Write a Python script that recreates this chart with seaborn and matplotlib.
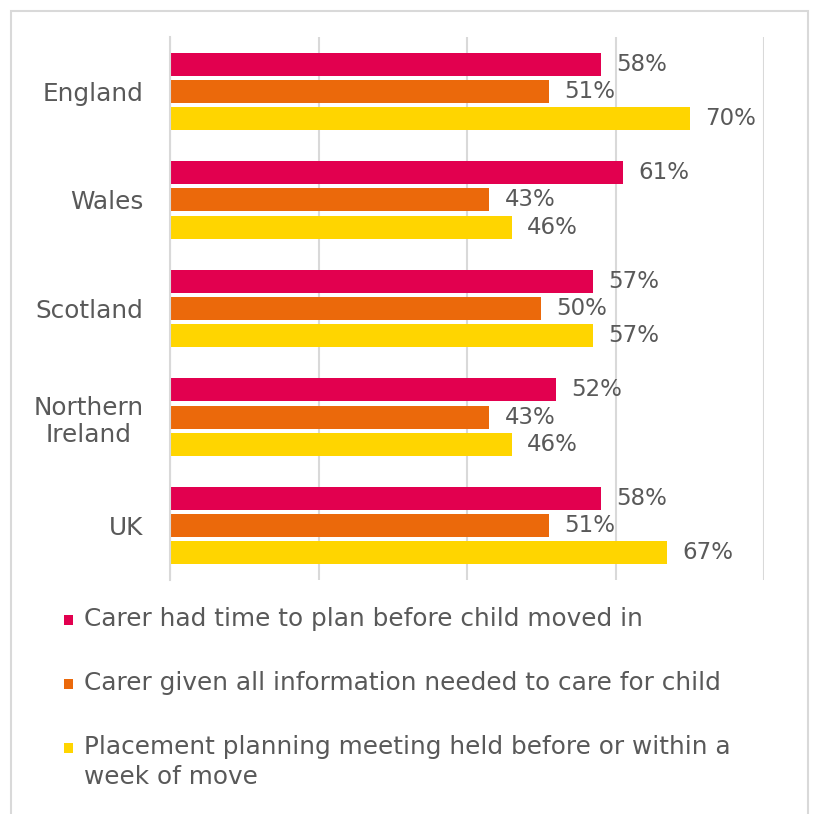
import matplotlib
matplotlib.use("Agg")
import matplotlib.pyplot as plt
from matplotlib.patches import Rectangle
import pandas as pd
import seaborn as sns

# Survey results by nation (% of foster carers)
countries = ["England", "Wales", "Scotland", "Northern\nIreland", "UK"]
measures = [
    "Carer had time to plan before child moved in",
    "Carer given all information needed to care for child",
    "Placement planning meeting held before or within a\nweek of move",
]
time_to_plan = [58, 61, 57, 52, 58]
all_information = [51, 43, 50, 43, 51]
planning_meeting = [70, 46, 57, 46, 67]
colors = ["#E2004F", "#EB690B", "#FFD500"]

rows = []
for measure, vals in zip(measures, [time_to_plan, all_information, planning_meeting]):
    for c, v in zip(countries, vals):
        rows.append({"country": c, "measure": measure, "value": v})
df = pd.DataFrame(rows)

sns.set_theme(style="white")
plt.rcParams["font.family"] = ["DejaVu Sans"]
text_color = "#595959"
grid_color = "#D9D9D9"
fs_value = 16.5
fs_text = 17.8

fig = plt.figure(figsize=(8.14, 8.14), dpi=100)
ax = fig.add_axes([170 / 814, 1 - 580 / 814, (764 - 170) / 814, (580 - 37) / 814])

sns.barplot(data=df, y="country", x="value", hue="measure", orient="h",
            palette=colors, width=0.75, gap=0.15, legend=False, ax=ax,
            saturation=1, linewidth=0)

for cont in ax.containers:
    ax.bar_label(cont, fmt="%g%%", padding=11, fontsize=fs_value, color=text_color)

ax.set_xlim(0, 80)
ax.set_xticks([0, 20, 40, 60, 80])
ax.set_xticklabels([])
ax.tick_params(axis="x", length=0)
ax.xaxis.grid(True, color=grid_color, linewidth=1.5)
ax.set_axisbelow(True)
ax.set_xlabel("")
ax.set_ylabel("")

for s in ["top", "right", "bottom"]:
    ax.spines[s].set_visible(False)
ax.spines["left"].set_color(grid_color)
ax.spines["left"].set_linewidth(1.5)

ax.set_yticks(range(len(countries)))
ax.set_yticklabels(countries, fontsize=fs_text, color=text_color,
                   multialignment="center")
ax.tick_params(axis="y", which="major", length=0, pad=19)
ax.set_yticks([i - 0.5 for i in range(len(countries) + 1)], minor=True)
ax.tick_params(axis="y", which="minor", length=6, width=1.5, color=grid_color)
ax.set_ylim(len(countries) - 0.5, -0.5)

# Legend drawn as coloured squares with text, first line aligned to the marker
legend_rows = [620, 684, 748]
for measure, col, y in zip(measures, colors, legend_rows):
    fig.patches.append(Rectangle((64 / 814, 1 - (y + 5) / 814), 9 / 814, 10 / 814,
                                 transform=fig.transFigure, facecolor=col,
                                 edgecolor="none"))
    fig.text(84 / 814, 1 - (y - 13) / 814, measure, fontsize=fs_text,
             color=text_color, va="top", ha="left", linespacing=1.3)

# Outer frame
fig.patches.append(Rectangle((11 / 814, -0.05), (808 - 11) / 814, 1.05 - 11 / 814,
                             transform=fig.transFigure, facecolor="none",
                             edgecolor=grid_color, linewidth=1.5))

fig.savefig("out.png", dpi=100)
